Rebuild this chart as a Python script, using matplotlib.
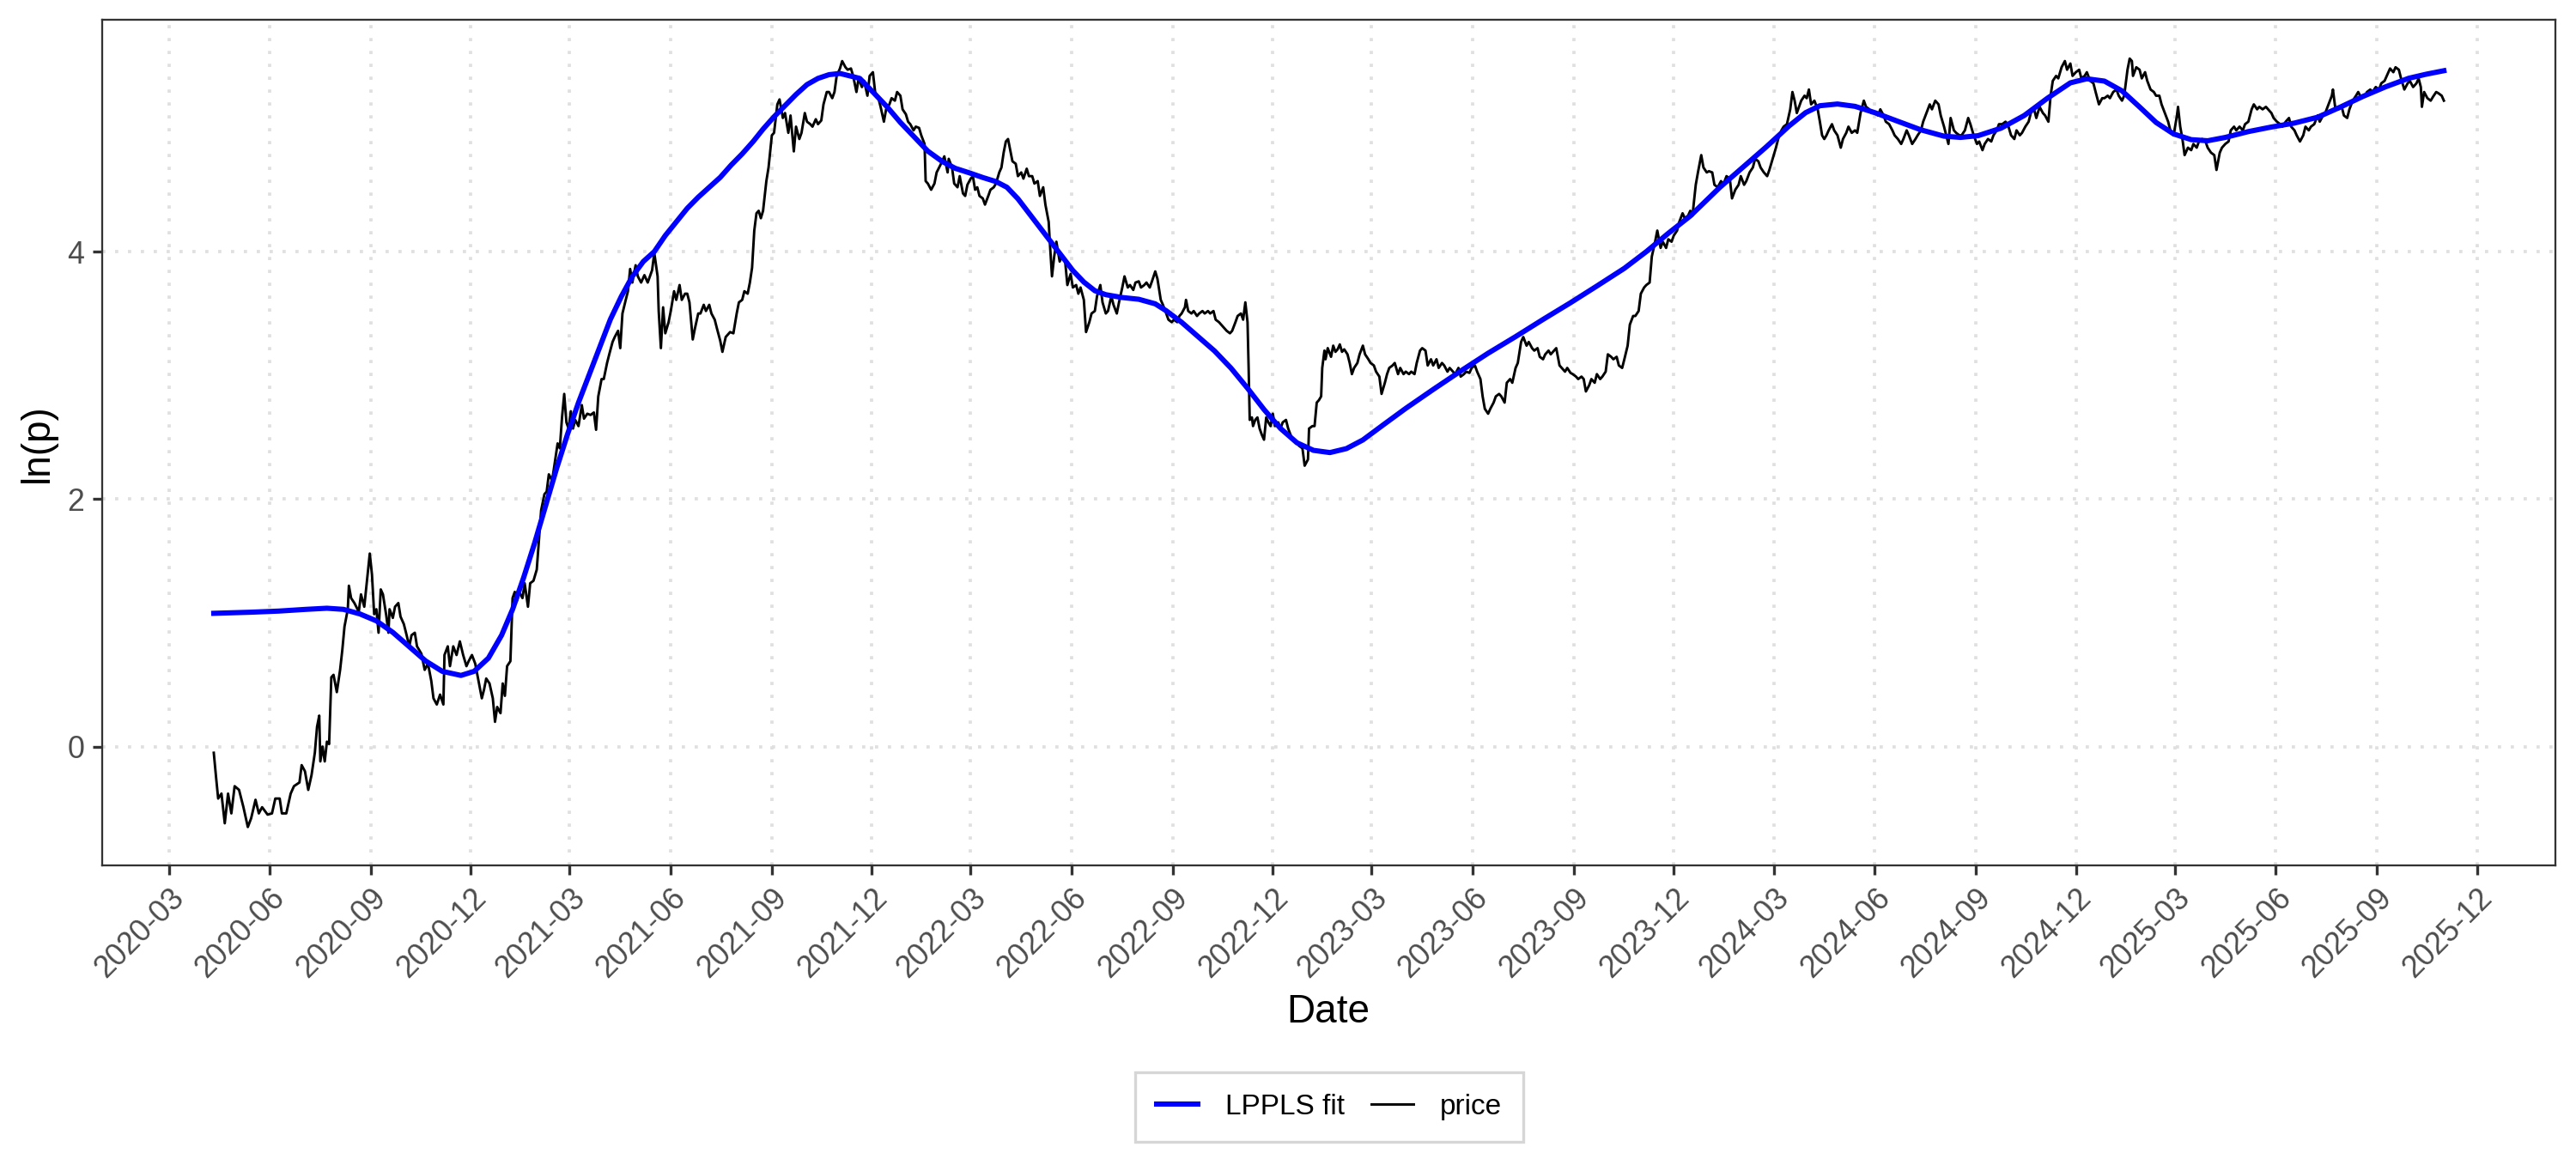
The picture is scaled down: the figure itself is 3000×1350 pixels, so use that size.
import matplotlib
matplotlib.use("Agg")
import matplotlib.pyplot as plt
import matplotlib.dates as mdates
import numpy as np

plt.rcParams['font.family'] = ['Liberation Sans', 'DejaVu Sans']

# day offsets counted from 2020-03-01, value = ln(price)
start_date = np.datetime64('2020-03-01')

price_a = [
    (41, -0.05), (43, -0.24), (45, -0.42), (48, -0.38), (51, -0.62), (54, -0.38), (57, -0.54),
    (60, -0.32), (64, -0.35), (68, -0.49), (72, -0.65), (75, -0.58), (79, -0.43), (82, -0.54),
    (85, -0.49), (90, -0.55), (94, -0.54), (97, -0.42), (101, -0.42), (103, -0.54), (107, -0.54),
    (111, -0.38), (114, -0.32), (119, -0.29), (121, -0.15), (124, -0.20), (127, -0.35), (130, -0.23),
    (133, -0.05), (135, 0.16), (137, 0.25), (138, -0.12), (140, 0.00), (142, -0.12), (144, 0.04),
    (146, 0.02), (148, 0.56), (150, 0.58), (153, 0.44), (156, 0.62), (158, 0.78), (160, 0.97),
    (163, 1.11), (164, 1.30), (166, 1.20), (169, 1.16), (173, 1.09), (175, 1.23), (178, 1.13),
    (181, 1.39), (183, 1.56), (185, 1.39), (187, 1.07), (189, 1.11), (191, 0.92), (193, 1.27),
    (195, 1.23), (198, 1.06), (200, 0.92), (201, 1.11), (204, 1.04), (206, 1.13), (209, 1.16),
    (211, 1.05), (214, 0.99), (216, 0.92), (219, 0.81), (221, 0.90), (224, 0.92), (226, 0.81),
    (230, 0.75), (233, 0.62), (236, 0.67), (239, 0.53), (241, 0.39), (244, 0.34), (247, 0.42),
    (250, 0.34), (251, 0.74), (254, 0.81), (256, 0.65), (259, 0.81), (262, 0.74), (265, 0.85),
    (268, 0.74), (271, 0.65), (273, 0.69), (276, 0.74), (279, 0.67), (282, 0.53), (285, 0.39),
    (287, 0.46), (289, 0.55), (292, 0.51), (295, 0.39), (297, 0.20), (299, 0.32), (302, 0.27),
    (304, 0.51), (306, 0.41), (308, 0.65), (311, 0.69), (313, 1.20), (315, 1.25), (317, 1.18),
    (319, 1.25), (322, 1.20), (324, 1.32), (327, 1.13), (329, 1.32), (332, 1.34), (335, 1.43),
    (337, 1.67), (339, 1.91), (342, 2.04), (344, 2.06), (346, 2.20), (349, 2.15), (351, 2.27),
    (354, 2.45), (356, 2.41), (358, 2.66), (360, 2.85), (362, 2.62), (364, 2.57), (366, 2.71),
    (368, 2.57), (370, 2.64), (373, 2.59), (376, 2.76), (378, 2.65), (381, 2.69), (384, 2.68),
    (387, 2.70), (389, 2.56), (391, 2.83), (394, 2.97), (396, 2.97), (399, 3.10), (401, 3.17),
    (404, 3.27), (406, 3.31), (409, 3.36), (411, 3.22), (413, 3.50), (416, 3.61), (418, 3.68),
    (420, 3.86), (422, 3.75), (425, 3.89), (427, 3.80), (430, 3.75), (433, 3.81), (436, 3.75),
    (440, 3.85), (442, 3.99), (445, 3.80), (446, 3.52), (448, 3.22), (450, 3.55), (452, 3.34),
    (455, 3.43), (457, 3.52), (460, 3.68), (462, 3.61), (465, 3.73), (467, 3.61), (470, 3.66),
    (472, 3.66), (474, 3.59), (477, 3.29), (479, 3.38), (482, 3.50), (484, 3.50), (487, 3.57),
    (489, 3.52), (492, 3.57), (494, 3.50), (497, 3.45), (499, 3.38), (502, 3.28), (504, 3.19),
    (507, 3.31), (511, 3.35), (514, 3.34), (517, 3.50), (519, 3.59), (522, 3.61), (524, 3.68),
    (527, 3.66), (529, 3.75), (531, 3.87), (533, 4.17), (535, 4.31), (537, 4.33), (539, 4.27),
    (541, 4.33), (544, 4.57), (546, 4.68), (549, 4.94), (551, 4.96), (554, 5.19), (556, 5.23),
    (559, 5.08), (561, 5.12), (564, 4.96), (566, 5.10), (569, 4.81), (571, 5.01), (574, 4.91),
    (576, 4.96), (579, 5.12), (581, 5.05), (584, 5.03), (586, 5.01), (589, 5.07), (591, 5.03),
    (594, 5.06), (596, 5.19), (599, 5.29), (601, 5.29), (604, 5.24), (606, 5.29), (608, 5.42),
    (611, 5.48), (613, 5.54), (616, 5.49), (618, 5.47), (621, 5.48), (623, 5.42), (626, 5.29),
    (628, 5.40), (631, 5.33), (633, 5.38), (636, 5.26), (638, 5.42), (641, 5.45), (643, 5.29),
    (646, 5.24), (648, 5.17), (651, 5.05), (653, 5.15), (656, 5.19), (658, 5.24), (661, 5.22),
    (663, 5.29), (666, 5.26), (668, 5.15), (671, 5.11), (673, 5.05), (675, 5.03), (678, 4.98),
    (680, 5.01), (683, 5.00), (685, 4.94), (688, 4.87), (689, 4.57), (691, 4.55), (694, 4.50),
    (697, 4.55), (699, 4.64), (703, 4.71),
]

price_b = [
    (706, 4.77), (709, 4.64), (710, 4.75), (713, 4.68), (715, 4.55), (718, 4.52), (720, 4.61),
    (723, 4.47), (725, 4.45), (727, 4.54), (730, 4.59), (732, 4.61), (734, 4.50), (736, 4.52),
    (738, 4.45), (741, 4.43), (743, 4.38), (746, 4.45), (748, 4.50), (751, 4.52), (753, 4.55),
    (756, 4.64), (758, 4.68), (760, 4.80), (762, 4.89), (764, 4.91), (766, 4.82), (768, 4.73),
    (771, 4.71), (773, 4.61), (776, 4.64), (778, 4.59), (781, 4.67), (783, 4.61), (786, 4.61),
    (788, 4.55), (791, 4.57), (793, 4.45), (796, 4.52), (798, 4.38), (801, 4.24), (802, 4.08),
    (804, 3.80), (806, 3.96), (808, 4.08), (811, 3.92), (813, 3.96), (816, 3.92), (818, 3.73),
    (821, 3.82), (823, 3.71), (826, 3.73), (828, 3.66), (830, 3.71), (833, 3.61), (835, 3.35),
    (838, 3.43), (840, 3.50), (843, 3.52), (845, 3.64), (848, 3.73), (850, 3.59), (853, 3.50),
    (855, 3.52), (858, 3.64), (860, 3.57), (863, 3.50), (865, 3.59), (868, 3.71), (870, 3.80),
    (873, 3.71), (875, 3.73), (878, 3.69), (880, 3.75), (883, 3.76), (885, 3.71), (888, 3.73),
    (890, 3.75), (893, 3.71), (895, 3.76), (898, 3.84), (900, 3.78), (903, 3.61), (905, 3.57),
    (908, 3.50), (910, 3.45), (913, 3.43), (915, 3.45), (918, 3.43), (920, 3.48), (922, 3.50),
    (925, 3.55), (926, 3.61), (928, 3.52), (931, 3.50), (933, 3.52), (936, 3.48), (938, 3.50),
    (941, 3.52), (943, 3.50), (946, 3.52), (948, 3.50), (951, 3.52), (953, 3.45), (956, 3.43),
    (958, 3.41), (961, 3.38), (963, 3.36), (966, 3.34), (968, 3.36), (971, 3.43), (973, 3.48),
    (976, 3.50), (978, 3.45), (980, 3.59), (982, 3.43), (983, 3.06), (984, 2.64), (986, 2.66),
    (987, 2.59), (989, 2.64), (991, 2.66), (993, 2.57), (995, 2.52), (997, 2.48), (999, 2.66),
    (1001, 2.62), (1003, 2.59), (1005, 2.69), (1007, 2.59), (1010, 2.62), (1012, 2.57), (1014, 2.62),
    (1017, 2.64), (1019, 2.57), (1022, 2.50), (1024, 2.48), (1027, 2.45), (1029, 2.43), (1032, 2.41),
    (1034, 2.27), (1037, 2.32), (1038, 2.57), (1041, 2.59), (1043, 2.59), (1045, 2.78), (1047, 2.80),
    (1049, 2.83), (1050, 3.06), (1052, 3.20), (1053, 3.13), (1055, 3.22), (1058, 3.15), (1060, 3.24),
    (1062, 3.19), (1064, 3.21), (1066, 3.25), (1068, 3.19), (1070, 3.21), (1073, 3.17), (1075, 3.10),
    (1077, 3.01), (1079, 3.06), (1082, 3.10), (1084, 3.17), (1087, 3.24), (1089, 3.17), (1092, 3.13),
    (1094, 3.10), (1097, 3.08), (1099, 3.03), (1102, 2.99), (1104, 2.85), (1107, 2.94), (1109, 3.01),
    (1111, 3.06), (1114, 3.08), (1116, 3.10), (1119, 3.01), (1121, 3.06), (1124, 3.01), (1126, 3.03),
    (1129, 3.01), (1131, 3.03), (1134, 3.01), (1136, 3.10), (1139, 3.20), (1141, 3.22), (1144, 3.20),
    (1146, 3.08), (1149, 3.13), (1151, 3.08), (1154, 3.13), (1156, 3.06), (1159, 3.10), (1161, 3.08),
    (1164, 3.03), (1166, 3.06), (1169, 3.03), (1171, 3.01), (1174, 3.06), (1176, 2.99), (1179, 3.01),
    (1181, 3.03), (1184, 3.02), (1186, 3.06), (1189, 3.08), (1191, 3.03), (1194, 2.97), (1196, 2.83),
    (1198, 2.73), (1201, 2.69), (1203, 2.73), (1206, 2.78), (1208, 2.83), (1211, 2.85), (1213, 2.83),
    (1216, 2.78), (1218, 2.94), (1221, 2.97), (1223, 2.94), (1226, 3.06), (1228, 3.10), (1231, 3.27),
    (1233, 3.31), (1236, 3.24), (1238, 3.27), (1241, 3.22), (1243, 3.20), (1246, 3.22), (1248, 3.15),
    (1251, 3.13), (1253, 3.17), (1256, 3.20), (1258, 3.17), (1261, 3.20), (1263, 3.22), (1266, 3.08),
    (1268, 3.06), (1271, 3.03), (1273, 3.06), (1276, 3.02), (1278, 3.01), (1281, 2.99), (1283, 2.97),
    (1286, 2.99), (1288, 2.97), (1290, 2.87), (1293, 2.92), (1295, 2.97), (1298, 2.94), (1300, 3.01),
    (1303, 2.97), (1305, 2.99), (1308, 3.03), (1310, 3.17), (1313, 3.15), (1315, 3.13), (1318, 3.15),
    (1320, 3.08), (1323, 3.06), (1325, 3.13), (1328, 3.24), (1330, 3.41), (1333, 3.48), (1335, 3.48),
    (1338, 3.52), (1340, 3.66), (1343, 3.71), (1345, 3.73), (1348, 3.75), (1350, 3.96), (1353, 4.08),
    (1355, 4.17), (1358, 4.03), (1360, 4.08), (1363, 4.03), (1365, 4.10), (1368, 4.08), (1370, 4.13),
    (1373, 4.17), (1375, 4.24), (1378, 4.31), (1380, 4.27), (1383, 4.29), (1385, 4.33), (1387, 4.29),
    (1390, 4.54), (1392, 4.64), (1395, 4.78), (1397, 4.68), (1400, 4.64), (1402, 4.65), (1405, 4.64),
    (1407, 4.54),
]

price_c = [
    (1410, 4.52), (1413, 4.57), (1415, 4.54), (1418, 4.61), (1421, 4.59), (1423, 4.43), (1426, 4.50),
    (1429, 4.54), (1431, 4.61), (1434, 4.54), (1436, 4.57), (1439, 4.64), (1442, 4.68), (1444, 4.75),
    (1447, 4.73), (1449, 4.68), (1452, 4.64), (1455, 4.61), (1457, 4.66), (1460, 4.75), (1463, 4.84),
    (1465, 4.91), (1468, 4.98), (1470, 5.01), (1473, 5.03), (1476, 5.15), (1478, 5.29), (1480, 5.22),
    (1482, 5.12), (1484, 5.17), (1486, 5.22), (1489, 5.26), (1491, 5.24), (1493, 5.31), (1495, 5.19),
    (1498, 5.22), (1501, 5.15), (1503, 5.05), (1505, 4.94), (1507, 4.91), (1509, 4.94), (1511, 4.98),
    (1514, 5.03), (1516, 4.98), (1519, 4.94), (1522, 4.84), (1524, 4.91), (1527, 4.96), (1529, 5.01),
    (1532, 4.96), (1535, 4.98), (1537, 4.96), (1540, 5.12), (1543, 5.22), (1545, 5.17), (1548, 5.15),
    (1550, 5.12), (1553, 5.12), (1556, 5.10), (1558, 5.15), (1561, 5.10), (1563, 5.05), (1566, 5.03),
    (1569, 4.98), (1571, 4.94), (1574, 4.91), (1577, 4.87), (1579, 4.91), (1582, 4.98), (1584, 4.94),
    (1587, 4.87), (1590, 4.91), (1592, 4.94), (1595, 4.98), (1597, 5.05), (1600, 5.12), (1603, 5.19),
    (1605, 5.15), (1608, 5.22), (1611, 5.19), (1613, 5.10), (1616, 5.01), (1618, 4.94), (1620, 4.87),
    (1622, 5.08), (1625, 4.98), (1627, 4.96), (1630, 4.94), (1632, 4.94), (1635, 4.98), (1638, 5.08),
    (1640, 5.03), (1643, 4.94), (1646, 4.87), (1648, 4.89), (1651, 4.82), (1653, 4.87), (1656, 4.91),
    (1659, 4.89), (1661, 4.94), (1664, 4.98), (1666, 5.03), (1669, 5.03), (1672, 5.05), (1674, 5.03),
    (1677, 4.94), (1680, 4.91), (1682, 4.98), (1685, 4.94), (1687, 4.96), (1690, 5.01), (1693, 5.05),
    (1695, 5.12), (1698, 5.15), (1700, 5.08), (1703, 5.17), (1706, 5.12), (1708, 5.10), (1711, 5.05),
    (1713, 5.26), (1715, 5.38), (1718, 5.42), (1720, 5.40), (1723, 5.49), (1726, 5.54), (1728, 5.47),
    (1731, 5.52), (1733, 5.42), (1736, 5.45), (1739, 5.47), (1741, 5.40), (1744, 5.42), (1746, 5.45),
    (1749, 5.38), (1752, 5.36), (1754, 5.29), (1757, 5.19), (1760, 5.24), (1762, 5.24), (1765, 5.26),
    (1767, 5.24), (1770, 5.29), (1773, 5.31), (1775, 5.26), (1778, 5.22), (1780, 5.26), (1783, 5.47),
    (1785, 5.56), (1787, 5.54), (1788, 5.42), (1791, 5.49), (1794, 5.47), (1796, 5.40), (1799, 5.45),
    (1801, 5.38), (1804, 5.31), (1807, 5.29), (1809, 5.26), (1812, 5.26), (1814, 5.19), (1817, 5.12),
    (1820, 5.05), (1822, 4.98), (1825, 4.94), (1828, 5.10), (1829, 5.17), (1831, 5.01), (1833, 4.91),
    (1835, 4.78), (1838, 4.84), (1841, 4.82), (1843, 4.87), (1846, 4.84), (1848, 4.89), (1851, 4.91),
    (1854, 4.89), (1856, 4.84), (1859, 4.80), (1862, 4.78), (1864, 4.66), (1867, 4.80), (1869, 4.84),
    (1872, 4.87), (1875, 4.89), (1877, 4.98), (1880, 5.01), (1882, 4.98), (1885, 5.01), (1888, 4.98),
    (1890, 5.03), (1893, 5.05), (1896, 5.15), (1898, 5.19), (1901, 5.15), (1903, 5.17), (1906, 5.15),
    (1909, 5.17), (1911, 5.15), (1914, 5.12), (1916, 5.08), (1919, 5.05), (1922, 5.03), (1924, 5.01),
    (1927, 5.05), (1930, 5.08), (1932, 5.01), (1935, 4.98), (1937, 4.94), (1940, 4.89), (1943, 4.94),
    (1945, 5.01), (1948, 4.98), (1950, 5.01), (1953, 5.03), (1956, 5.10), (1958, 5.05), (1961, 5.10),
    (1963, 5.12), (1966, 5.19), (1969, 5.26), (1970, 5.31), (1972, 5.17), (1975, 5.15), (1978, 5.17),
    (1980, 5.10), (1983, 5.08), (1985, 5.15), (1988, 5.22), (1991, 5.26), (1993, 5.29), (1996, 5.24),
    (1999, 5.26), (2001, 5.29), (2004, 5.31), (2006, 5.29), (2009, 5.33), (2012, 5.31), (2014, 5.36),
    (2017, 5.38), (2019, 5.42), (2022, 5.48), (2025, 5.45), (2027, 5.49), (2030, 5.47), (2032, 5.40),
    (2035, 5.31), (2038, 5.36), (2040, 5.38), (2043, 5.33), (2046, 5.36), (2048, 5.40), (2050, 5.33),
    (2051, 5.17), (2053, 5.29), (2056, 5.24), (2059, 5.22), (2061, 5.25), (2064, 5.29), (2066, 5.28),
    (2069, 5.26), (2071, 5.22),
]

fit_pts = [
    (41, 1.077), (75, 1.086), (100, 1.095), (125, 1.109), (144, 1.118), (159, 1.109), (174, 1.072),
    (189, 1.016), (204, 0.923), (219, 0.807), (234, 0.691), (249, 0.608), (266, 0.575), (278, 0.608),
    (291, 0.715), (303, 0.900), (313, 1.109), (323, 1.364), (333, 1.643), (343, 1.944), (353, 2.246),
    (363, 2.524), (373, 2.780), (383, 3.012), (393, 3.244), (402, 3.452), (412, 3.638), (422, 3.800),
    (432, 3.920), (442, 4.000), (452, 4.130), (462, 4.240), (472, 4.350), (482, 4.440), (492, 4.520),
    (502, 4.600), (512, 4.700), (522, 4.790), (532, 4.890), (541, 4.990), (551, 5.090), (561, 5.180),
    (571, 5.270), (581, 5.350), (591, 5.400), (601, 5.430), (611, 5.440), (629, 5.400), (641, 5.290),
    (654, 5.169), (666, 5.044), (679, 4.923), (691, 4.812), (704, 4.729), (716, 4.673), (729, 4.636),
    (741, 4.599), (753, 4.566), (763, 4.520), (773, 4.427), (783, 4.311), (793, 4.195), (803, 4.079),
    (813, 3.963), (823, 3.847), (833, 3.754), (843, 3.684), (853, 3.652), (868, 3.629), (883, 3.615),
    (898, 3.578), (908, 3.522), (922, 3.429), (937, 3.313), (952, 3.197), (967, 3.058), (982, 2.896),
    (997, 2.724), (1012, 2.571), (1027, 2.455), (1042, 2.394), (1057, 2.376), (1072, 2.408),
    (1087, 2.478), (1106, 2.603), (1126, 2.733), (1151, 2.886), (1176, 3.035), (1201, 3.179),
    (1226, 3.313), (1251, 3.452), (1276, 3.587), (1300, 3.722), (1325, 3.865), (1345, 4.000),
    (1365, 4.148), (1385, 4.288), (1412, 4.520), (1433, 4.682), (1454, 4.845), (1475, 5.016),
    (1490, 5.123), (1503, 5.179), (1519, 5.193), (1535, 5.174), (1553, 5.123), (1574, 5.053),
    (1595, 4.984), (1616, 4.933), (1631, 4.923), (1647, 4.937), (1668, 4.998), (1689, 5.100),
    (1710, 5.239), (1731, 5.364), (1746, 5.397), (1762, 5.378), (1778, 5.299), (1794, 5.169),
    (1809, 5.044), (1825, 4.951), (1841, 4.905), (1856, 4.896), (1872, 4.923), (1893, 4.970),
    (1914, 5.007), (1935, 5.039), (1956, 5.086), (1977, 5.169), (1997, 5.253), (2018, 5.332),
    (2039, 5.401), (2055, 5.434), (2071, 5.462),
]

y_ticks = [0, 2, 4]


def to_dates(pts):
    days = np.array([p[0] for p in pts])
    vals = np.array([p[1] for p in pts])
    return start_date + days.astype('timedelta64[D]'), vals


price_x, price_y = to_dates(price_a + price_b + price_c)
fit_x, fit_y = to_dates(fit_pts)

fig = plt.figure(figsize=(10, 4.5), dpi=300)
ax = fig.add_axes([0.0397, 0.2533, 0.9523, 0.7293])

grid_kw = dict(color='#e0e0e0', linewidth=0.9, linestyle=(0, (1, 3)), zorder=0)

price_line, = ax.plot(price_x, price_y, color='black', linewidth=0.7, zorder=3)
fit_line, = ax.plot(fit_x, fit_y, color='#0000ff', linewidth=1.45, zorder=4)

ax.margins(x=0.05, y=0.05)

x_ticks = np.arange(np.datetime64('2020-03'), np.datetime64('2026-01'), 3).astype('datetime64[D]')
ax.set_xticks(x_ticks)
ax.xaxis.set_major_formatter(mdates.DateFormatter('%Y-%m'))
ax.set_yticks(y_ticks)
ax.grid(True, which='major', **grid_kw)
ax.set_axisbelow(True)

for lbl in ax.get_xticklabels():
    lbl.set_rotation(45)
    lbl.set_ha('right')
    lbl.set_va('top')
    lbl.set_rotation_mode('anchor')

ax.tick_params(axis='both', length=2.75, width=0.8, color='#333333',
               labelcolor='#4d4d4d', labelsize=8.6, pad=2.2)

for s in ax.spines.values():
    s.set_color('#333333')
    s.set_linewidth(0.55)

fig.text(0.5157, 0.1267, 'Date', ha='center', va='center', fontsize=11)
fig.text(0.0147, 0.6177, 'ln(p)', ha='center', va='center', rotation=90, fontsize=11)

leg = fig.legend([fit_line, price_line], ['LPPLS fit', 'price'], loc='center',
                 bbox_to_anchor=(0.516, 0.045), ncol=2, fontsize=8.0, frameon=True,
                 fancybox=False, handlelength=1.45, handletextpad=0.95,
                 columnspacing=0.95, borderpad=0.75)
leg.get_frame().set_edgecolor('#cccccc')
leg.get_frame().set_linewidth(0.8)

fig.savefig('out.png', dpi=300)
